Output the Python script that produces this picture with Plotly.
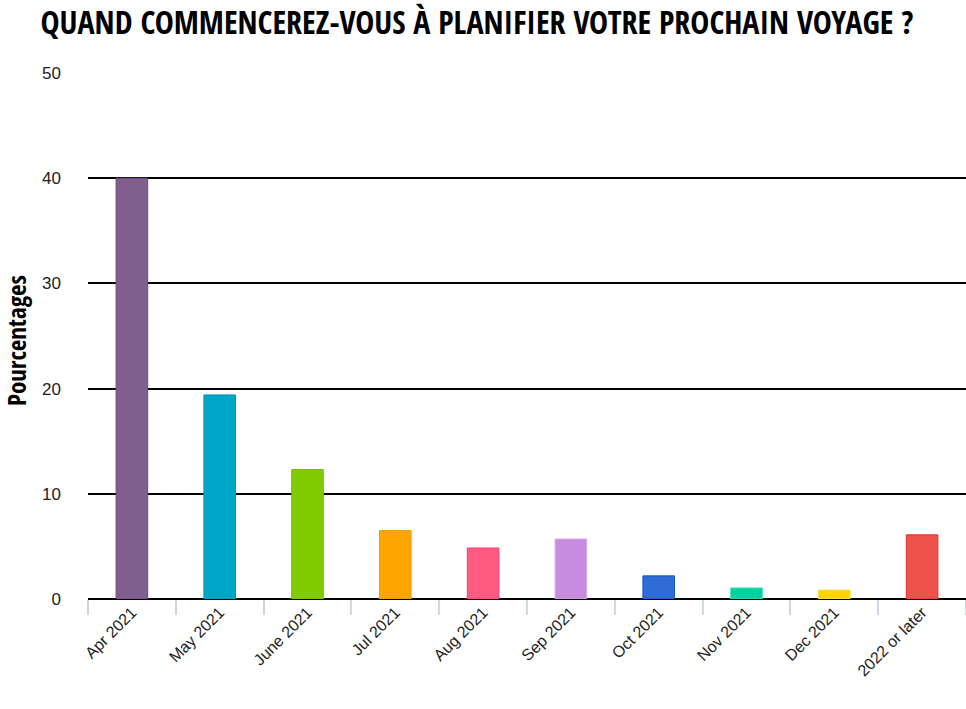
import plotly.graph_objects as go

categories = ["Apr 2021", "May 2021", "June 2021", "Jul 2021", "Aug 2021",
              "Sep 2021", "Oct 2021", "Nov 2021", "Dec 2021", "2022 or later"]
values = [40.0, 19.4, 12.3, 6.5, 4.85, 5.7, 2.2, 1.05, 0.85, 6.1]
colors = ["#805e8e", "#00a6c8", "#80cc00", "#ffa400", "#ff5a82",
          "#c68ddf", "#2f6cd6", "#00d19f", "#ffd200", "#ee524d"]
edge_colors = ["#6f4a80", "#0096b8", "#74bd00", "#f29a00", "#ff3d6c",
               "#dca6ef", "#1b55c0", "#3fe0b8", "#ffe04a", "#e0302c"]
y_ticks = [0, 10, 20, 30, 40, 50]

cond = "Open Sans Condensed, Roboto Condensed, sans-serif"

fig = go.Figure(go.Bar(
    x=categories, y=values,
    marker=dict(color=colors, line=dict(color=edge_colors, width=1)),
    width=0.36,
))

fig.update_layout(
    width=966, height=709,
    margin=dict(l=88, r=0, t=73, b=110),
    paper_bgcolor="white", plot_bgcolor="white",
    showlegend=False,
    title=dict(text="<b>QUAND COMMENCEREZ-VOUS À PLANIFIER VOTRE PROCHAIN VOYAGE ?</b>",
               font=dict(family=cond, size=32, color="black"),
               x=0.4938, xanchor="center", y=0.968, yanchor="middle"),
    font=dict(family="Liberation Sans, Arial, sans-serif", color="#222"),
)
fig.add_annotation(
    text="<b>Pourcentages</b>", xref="paper", yref="paper", x=0, y=0.5,
    xanchor="center", yanchor="middle", xshift=-72, yshift=-5, textangle=-90,
    showarrow=False, font=dict(family=cond, size=25, color="black"),
)
fig.update_xaxes(
    tickson="boundaries", ticks="outside", ticklen=15, tickwidth=2,
    tickcolor="#cdd6ee", tickangle=-45, tickfont=dict(size=16, color="#222"),
    showline=False, showgrid=False, automargin=False,
)
fig.update_yaxes(
    range=[0, 50], tickvals=y_ticks, showgrid=True, gridcolor="black", gridwidth=1.5,
    zeroline=True, zerolinecolor="black", zerolinewidth=2,
    tickfont=dict(size=17, color="#222"), ticks="", ticklabelstandoff=26,
    automargin=False,
)
fig.write_html("out.html", config={"displayModeBar": False},
               post_script="document.body.style.margin='0';")
